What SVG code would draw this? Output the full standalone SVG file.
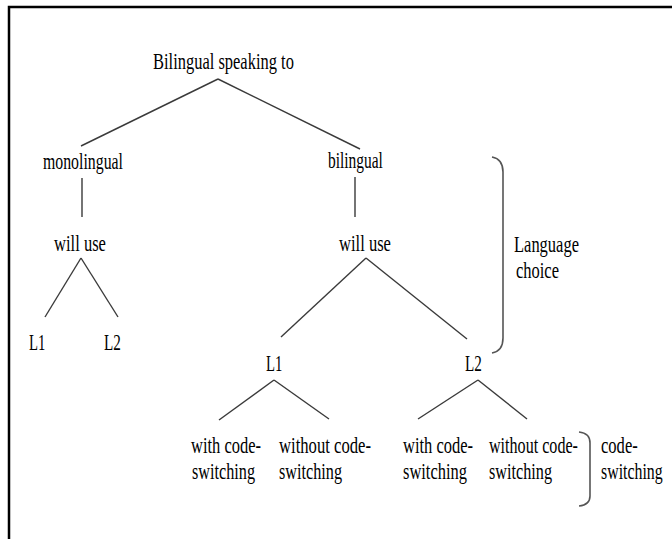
<svg xmlns="http://www.w3.org/2000/svg" width="672" height="539" viewBox="0 0 672 539">
<style>
.t{font-family:"Liberation Serif","Times New Roman",serif;font-size:23px;fill:#000}
.e{stroke:#3a3a3a;stroke-width:1.4;fill:none}
.b{stroke:#555;stroke-width:1.6;fill:none}
</style>
<rect width="672" height="539" fill="#fff"/>
<path d="M9 539 L9 7 L672 7" stroke="#000" stroke-width="2.5" fill="none"/>
<g id="connectors">
<line class="e" x1="218" y1="79" x2="81" y2="146"/>
<line class="e" x1="218" y1="79" x2="360" y2="149"/>
<line class="e" x1="82" y1="178" x2="82" y2="217"/>
<line class="e" x1="355" y1="177" x2="355" y2="217"/>
<line class="e" x1="81" y1="258" x2="45" y2="317"/>
<line class="e" x1="81" y1="258" x2="118" y2="317"/>
<line class="e" x1="366" y1="258" x2="281" y2="337"/>
<line class="e" x1="366" y1="258" x2="467" y2="339"/>
<line class="e" x1="274" y1="380" x2="219" y2="420"/>
<line class="e" x1="274" y1="380" x2="329" y2="419"/>
<line class="e" x1="478" y1="380" x2="418" y2="419"/>
<line class="e" x1="478" y1="380" x2="527" y2="419"/>
</g>
<g id="root"><text class="t" transform="translate(153 69) scale(0.716 1)">Bilingual speaking to</text></g>
<g id="monolingual"><text class="t" transform="translate(43 169) scale(0.688 1)">monolingual</text></g>
<g id="bilingual"><text class="t" transform="translate(328 168) scale(0.672 1)">bilingual</text></g>
<g id="willuse-left"><text class="t" transform="translate(54 251) scale(0.72 1)">will use</text></g>
<g id="willuse-right"><text class="t" transform="translate(339 251) scale(0.72 1)">will use</text></g>
<g id="mono-L1"><text class="t" transform="translate(29 350) scale(0.64 1)">L1</text></g>
<g id="mono-L2"><text class="t" transform="translate(104 350) scale(0.66 1)">L2</text></g>
<g id="bi-L1"><text class="t" transform="translate(266 371) scale(0.64 1)">L1</text></g>
<g id="bi-L2"><text class="t" transform="translate(465 371) scale(0.66 1)">L2</text></g>
<g id="L1-with"><text class="t" transform="translate(191 453) scale(0.716 1)">with code-</text><text class="t" transform="translate(192 479) scale(0.705 1)">switching</text></g>
<g id="L1-without"><text class="t" transform="translate(279 453) scale(0.724 1)">without code-</text><text class="t" transform="translate(279 479) scale(0.705 1)">switching</text></g>
<g id="L2-with"><text class="t" transform="translate(403 453) scale(0.716 1)">with code-</text><text class="t" transform="translate(403 479) scale(0.716 1)">switching</text></g>
<g id="L2-without"><text class="t" transform="translate(489 453) scale(0.70 1)">without code-</text><text class="t" transform="translate(489 479) scale(0.705 1)">switching</text></g>
<g id="language-choice"><path class="b" d="M492 157 Q503 159 503 172 L503 338 Q503 351 492 353"/><text class="t" transform="translate(514 252) scale(0.717 1)">Language</text><text class="t" transform="translate(516 278) scale(0.716 1)">choice</text></g>
<g id="code-switching"><path class="b" d="M579 432 Q590 433 590 443 L590 496 Q590 505 579 506"/><text class="t" transform="translate(601 453) scale(0.72 1)">code-</text><text class="t" transform="translate(601 479) scale(0.69 1)">switching</text></g>
</svg>
